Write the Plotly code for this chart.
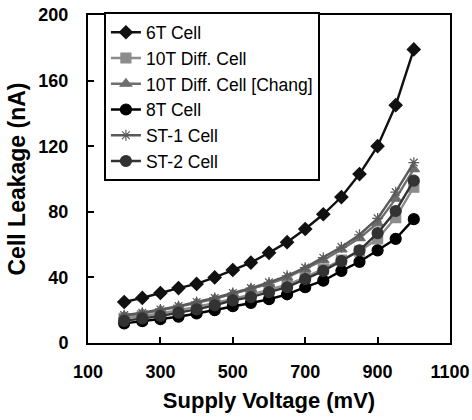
import plotly.graph_objects as go

# Supply voltage sweep (mV)
voltage = [200, 250, 300, 350, 400, 450, 500, 550, 600, 650, 700, 750, 800, 850, 900, 950, 1000]

# Cell leakage (nA) for each bit-cell topology
leak_6t = [25, 27.5, 30.5, 33.5, 36, 40, 44.5, 49, 55, 61.5, 69.5, 78.5, 89, 103, 120, 145, 179]
leak_10t_diff = [15, 16.5, 18, 20, 22, 24.5, 27, 29.5, 32.5, 35.5, 40, 45, 50.5, 56, 63.5, 76.5, 95]
leak_10t_chang = [16.5, 18, 20, 22, 24.5, 27, 30, 33, 36, 40, 45, 50.5, 57, 64, 73, 88, 106]
leak_8t = [12, 13.3, 14.5, 16, 18, 20, 22.4, 24.4, 26.7, 29.7, 34, 38, 44, 49.5, 56.5, 63.5, 75.5]
leak_st1 = [17, 18.5, 20.5, 22.5, 25, 27.5, 30.5, 33.5, 37, 41, 46, 52, 58.5, 66, 76, 92, 110]
leak_st2 = [13.5, 15, 16.5, 18.5, 20.5, 23, 26, 28, 31, 34, 39, 44, 50, 56.5, 67, 80.5, 99]

x_ticks = [100, 300, 500, 700, 900, 1100]
y_ticks = [0, 40, 80, 120, 160, 200]

series = [
    ("6T Cell", leak_6t, "#111111", "diamond", 10),
    ("10T Diff. Cell", leak_10t_diff, "#8c8c8c", "square", 10),
    ("10T Diff. Cell [Chang]", leak_10t_chang, "#6e6e6e", "triangle-up", 10),
    ("8T Cell", leak_8t, "#000000", "circle", 11),
    ("ST-1 Cell", leak_st1, "#5a5a5a", "asterisk-open", 9),
    ("ST-2 Cell", leak_st2, "#333333", "circle", 11),
]

FONT = "Liberation Sans, Arial"

fig = go.Figure()
for name, vals, color, symbol, size in series:
    fig.add_trace(go.Scatter(
        x=voltage, y=vals, name=name, mode="lines+markers",
        line=dict(color=color, width=2.4),
        marker=dict(symbol=symbol, size=size, color=color,
                    line=dict(color=color, width=1.2)),
    ))

axis_common = dict(
    showline=True, linecolor="black", linewidth=2, mirror=True,
    ticks="inside", ticklen=6, tickwidth=1.5, tickcolor="black",
    showgrid=False, zeroline=False, automargin=False,
    tickfont=dict(family=FONT, size=18, color="black", weight="bold"),
)

fig.update_xaxes(
    range=[100, 1100], tickvals=x_ticks, ticklabelstandoff=11,
    title=dict(text="Supply Voltage (mV)", standoff=12,
               font=dict(family=FONT, size=22, color="black", weight="bold")),
    **axis_common,
)
fig.update_yaxes(
    range=[0, 200], tickvals=y_ticks, ticklabelstandoff=14,
    title=dict(text="Cell Leakage (nA)", standoff=6,
               font=dict(family=FONT, size=23, color="black", weight="bold")),
    **axis_common,
)

fig.update_layout(
    width=472, height=420,
    margin=dict(l=88, r=22, t=13, b=77),
    plot_bgcolor="white", paper_bgcolor="white",
    showlegend=True,
    legend=dict(
        x=0.044, y=1.008, xanchor="left", yanchor="top",
        bgcolor="white", bordercolor="black", borderwidth=2,
        font=dict(family=FONT, size=17.5, color="black"),
        itemwidth=30, tracegroupgap=0,
    ),
)

fig.write_html("out.html")
